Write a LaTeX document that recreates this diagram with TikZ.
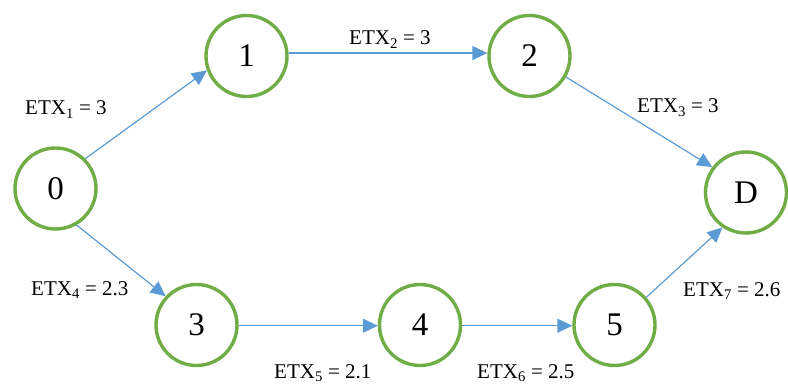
\documentclass[tikz,border=0pt]{standalone}
\usepackage{fontspec}
\setmainfont{Liberation Serif}
\usetikzlibrary{arrows.meta}
\definecolor{vgreen}{HTML}{70AD47}
\definecolor{eblue}{HTML}{5B9BD5}
\tikzset{
  vert/.style={circle,draw=vgreen,line width=3.4pt,minimum size=81pt,inner sep=0pt,font=\fontsize{33}{36}\selectfont},
  edge/.style={draw=eblue,line width=1.2pt,-{Triangle[length=15pt,width=14pt]}},
  lbl/.style={anchor=base west,inner sep=0pt,font=\fontsize{21}{24}\selectfont}
}
\begin{document}
\begin{tikzpicture}[x=1pt,y=-1pt]
\useasboundingbox (0,0) rectangle (788,385);
\node[vert] (n0) at (55.5,188.5) {0};
\node[vert] (n1) at (246.5,56) {1};
\node[vert] (n2) at (529.5,56) {2};
\node[vert] (nD) at (746,192.5) {D};
\node[vert] (n3) at (196.5,325) {3};
\node[vert] (n4) at (420,325) {4};
\node[vert] (n5) at (614.5,325) {5};
\draw[edge] (n0.45) -- (n1.200);
\draw[edge] (n1.4) -- (n2.176);
\draw[edge] (n2.-30) -- (nD.143);
\draw[edge] (n0.-60) -- (n3.137);
\draw[edge] (n3.-1) -- (n4.181);
\draw[edge] (n4.-1) -- (n5.181);
\draw[edge] (n5.41) -- (nD.236);
\node[lbl] (l1) at (25,115) {ETX\textsubscript{1} = 3};
\node[lbl] (l2) at (349,45) {ETX\textsubscript{2} = 3};
\node[lbl] (l3) at (637,113) {ETX\textsubscript{3} = 3};
\node[lbl] (l4) at (31,295) {ETX\textsubscript{4} = 2.3};
\node[lbl] (l5) at (274,378) {ETX\textsubscript{5} = 2.1};
\node[lbl] (l6) at (477,378) {ETX\textsubscript{6} = 2.5};
\node[lbl] (l7) at (683,296) {ETX\textsubscript{7} = 2.6};
\end{tikzpicture}
\end{document}
